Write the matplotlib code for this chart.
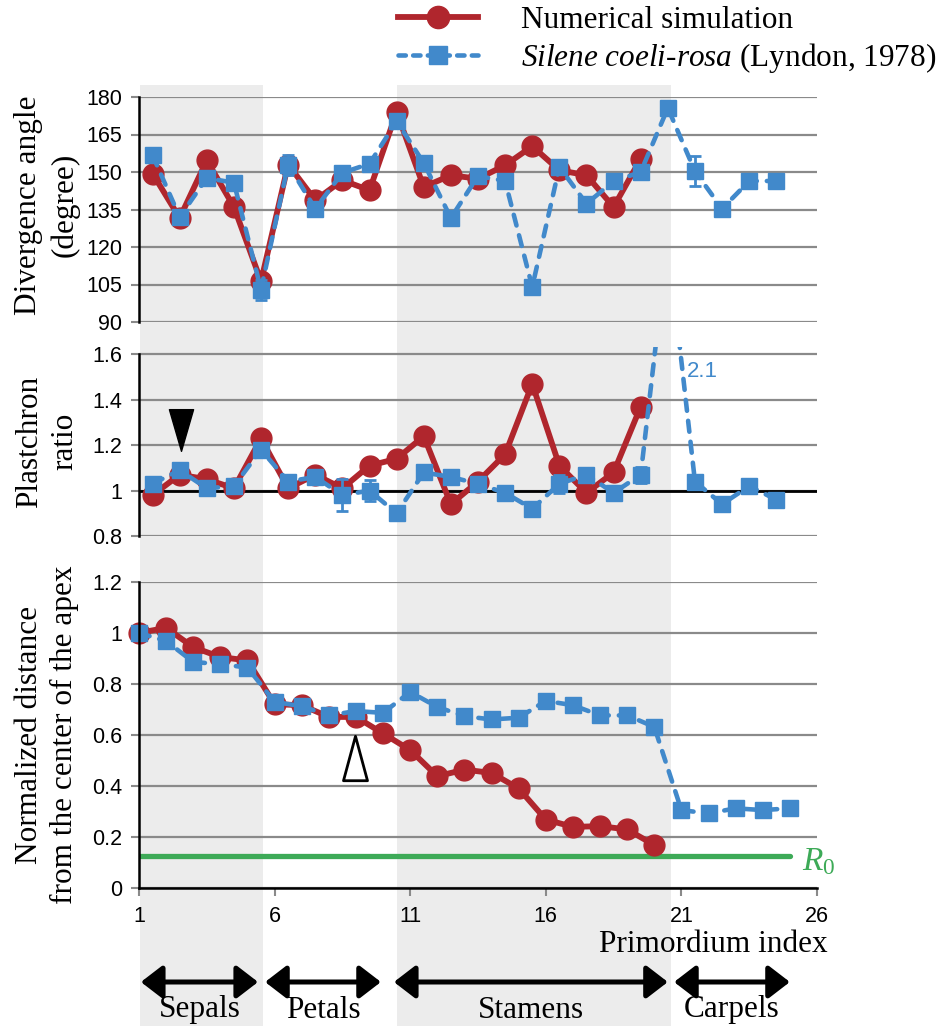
import numpy as np
import matplotlib
matplotlib.use("Agg")
import matplotlib.pyplot as plt
from matplotlib.lines import Line2D
from matplotlib.path import Path

plt.rcParams['font.family'] = ['Liberation Sans', 'DejaVu Sans']
plt.rcParams['mathtext.fontset'] = 'custom'
plt.rcParams['mathtext.it'] = 'Liberation Serif:italic'
plt.rcParams['mathtext.rm'] = 'Liberation Serif'

# ---------------- data ----------------
angle_sim = [149.4, 131.6, 154.7, 136.0, 106.3, 153.0, 138.7, 146.7, 142.7, 174.0,
             144.0, 148.7, 147.3, 152.7, 160.3, 150.7, 148.7, 136.0, 155.3]
angle_obs = [156.7, 132.0, 147.6, 145.7, 103.0, 153.0, 135.3, 149.7, 153.3, 170.3,
             153.6, 131.6, 148.4, 146.4, 104.0, 152.0, 137.3, 146.3, 150.0, 175.6,
             150.3, 135.3, 146.4, 146.4]
angle_err = [2.5, 0, 0, 1.5, 4.0, 4.0, 0, 0, 0, 0, 0, 0, 0, 0, 0, 0, 0, 0, 0, 0,
             6.0, 0, 0, 2.5]

ratio_sim = [0.98, 1.07, 1.05, 1.01, 1.23, 1.01, 1.07, 1.01, 1.11, 1.14,
             1.24, 0.94, 1.04, 1.16, 1.47, 1.11, 0.99, 1.08, 1.37]
ratio_obs = [1.03, 1.09, 1.01, 1.02, 1.18, 1.04, 1.06, 0.98, 1.00, 0.90,
             1.08, 1.06, 1.03, 0.99, 0.92, 1.03, 1.07, 0.99, 1.07, 2.10,
             1.04, 0.94, 1.02, 0.96]
ratio_err = [0.02, 0, 0, 0, 0, 0, 0, 0.07, 0.045, 0, 0, 0.03, 0.03, 0, 0.03, 0.04,
             0, 0.03, 0.035, 0, 0, 0, 0, 0]

dist_sim = [1.00, 1.02, 0.944, 0.905, 0.892, 0.72, 0.716, 0.67, 0.67, 0.605,
            0.54, 0.437, 0.463, 0.45, 0.389, 0.267, 0.238, 0.241, 0.228, 0.167]
dist_obs = [1.00, 0.968, 0.886, 0.877, 0.864, 0.729, 0.712, 0.676, 0.693, 0.686,
            0.768, 0.709, 0.673, 0.66, 0.667, 0.733, 0.716, 0.676, 0.676, 0.631,
            0.304, 0.291, 0.311, 0.304, 0.311]
R0 = 0.123
R0_extent = (1, 25)

organs = ["Sepals", "Petals", "Stamens", "Carpels"]
organ_spans = [(1.07, 5.39), (5.65, 9.92), (10.4, 20.5), (20.73, 25.0)]
shaded_spans = [(1.05, 5.58), (10.5, 20.6)]

angle_ticks = [90, 105, 120, 135, 150, 165, 180]
ratio_ticks = [0.8, 1.0, 1.2, 1.4, 1.6]
ratio_ticklabels = ["0.8", "1", "1.2", "1.4", "1.6"]
dist_ticks = [0, 0.2, 0.4, 0.6, 0.8, 1.0, 1.2]
dist_ticklabels = ["0", "0.2", "0.4", "0.6", "0.8", "1", "1.2"]
x_ticks = [1, 6, 11, 16, 21, 26]

# ---------------- style ----------------
RED = '#B0262D'
BLUE = '#4189CB'
GREEN = '#3DAA57'
GRID = '#8A8A8A'
BAND = '#ECECEC'
SERIF = ['Liberation Serif', 'DejaVu Serif']
FS = 22.5
TFS = 15.5

W, H = 946, 1026
fig = plt.figure(figsize=(W / 100, H / 100), dpi=100)

L = 139 / W
AW = (817 - 139) / W


def rect(top_px, bot_px):
    return [L, 1 - bot_px / H, AW, (bot_px - top_px) / H]


# background bands across the whole figure
ax_bg = fig.add_axes([L, 0, AW, (H - 85) / H], zorder=0)
ax_bg.set_xlim(1, 26)
ax_bg.set_ylim(0, 1)
ax_bg.axis('off')
for a, b in shaded_spans:
    ax_bg.axvspan(a, b, color=BAND, lw=0)

for (a, b), name in zip(organ_spans, organs):
    ax_bg.annotate('', xy=(b, 44 / 941), xytext=(a, 44 / 941),
                   xycoords=('data', 'axes fraction'), textcoords=('data', 'axes fraction'),
                   arrowprops=dict(arrowstyle='<|-|>,head_length=0.65,head_width=0.5',
                                   lw=3.6, color='black', shrinkA=0, shrinkB=0,
                                   mutation_scale=20))
    ax_bg.text((a + b) / 2, 16 / 941, name, transform=ax_bg.get_xaxis_transform(),
               ha='center', va='center', fontsize=FS, family=SERIF)

line_sim = dict(color=RED, lw=4.2, marker='o', ms=15, mec=RED, mfc=RED, zorder=4)
line_obs = dict(color=BLUE, lw=3.3, marker='s', ms=12, mec=BLUE, mfc=BLUE,
                dashes=(2.4, 2.2), dash_capstyle='round', zorder=5)


def style_axis(ax, ylim, ticks, labels, bounds):
    ax.set_xlim(1, 26)
    ax.set_ylim(*ylim)
    ax.patch.set_visible(False)
    for s in ['top', 'right']:
        ax.spines[s].set_visible(False)
    ax.spines['left'].set_linewidth(1.8)
    ax.spines['left'].set_color('black')
    ax.spines['left'].set_bounds(*bounds)
    ax.spines['left'].set_zorder(6)
    ax.set_yticks(ticks)
    ax.set_yticklabels(labels)
    ax.tick_params(axis='y', direction='out', length=6, width=1.5, color=GRID,
                   labelsize=TFS, pad=6)
    ax.yaxis.grid(True, color=GRID, lw=1.6, zorder=1)
    ax.set_axisbelow(True)


# ---------- top panel: divergence angle ----------
ax1 = fig.add_axes(rect(97, 322), zorder=2)
x_a_sim = np.arange(len(angle_sim)) + 1.5
x_a_obs = np.arange(len(angle_obs)) + 1.5
ax1.plot(x_a_sim, angle_sim, clip_on=False, **line_sim)
ax1.plot(x_a_obs, angle_obs, clip_on=False, **line_obs)
err = np.array(angle_err)
m = err > 0
ax1.errorbar(x_a_obs[m], np.array(angle_obs)[m], yerr=err[m], fmt='none', ecolor=BLUE,
             elinewidth=2, capsize=4.5, capthick=2, zorder=5)
style_axis(ax1, (90, 180), angle_ticks, [str(t) for t in angle_ticks], (90, 180))
ax1.spines['bottom'].set_visible(False)
ax1.set_xticks([])
ax1.set_ylabel("Divergence angle\n(degree)", fontsize=FS, family=SERIF, linespacing=1.3)
ax1.yaxis.set_label_coords(-0.088, 0.52)

# ---------- middle panel: plastochron ratio ----------
ax2 = fig.add_axes(rect(347, 536), zorder=2)
x_r_sim = np.arange(len(ratio_sim)) + 1.5
x_r_obs = np.arange(len(ratio_obs)) + 1.5
ax2.axhline(1.0, color='black', lw=2.0, zorder=2)
ax2.plot(x_r_sim, ratio_sim, **line_sim)
ax2.plot(x_r_obs, ratio_obs, **line_obs)
err = np.array(ratio_err)
m = err > 0
ax2.errorbar(x_r_obs[m], np.array(ratio_obs)[m], yerr=err[m], fmt='none', ecolor=BLUE,
             elinewidth=2, capsize=4.5, capthick=2, zorder=5)
style_axis(ax2, (0.8, 1.6326), ratio_ticks, ratio_ticklabels, (0.8, 1.6))
ax2.spines['bottom'].set_visible(False)
ax2.set_xticks([])
ax2.set_ylabel("Plastchron\nratio", fontsize=FS, family=SERIF, linespacing=1.3)
ax2.yaxis.set_label_coords(-0.088, 0.5)
ax2.text(21.2, 1.525, "2.1", color=BLUE, fontsize=16, ha='left', va='center')
down_tri = Path([(-0.29, 0.5), (0.29, 0.5), (0, -0.5), (-0.29, 0.5)],
                [Path.MOVETO, Path.LINETO, Path.LINETO, Path.CLOSEPOLY])
ax2.plot([2.55], [1.265], marker=down_tri, ms=30, color='black', mec='black', zorder=7)

# ---------- bottom panel: normalized distance ----------
ax3 = fig.add_axes(rect(582, 887.5), zorder=2)
x_d_sim = np.arange(len(dist_sim)) + 1
x_d_obs = np.arange(len(dist_obs)) + 1
ax3.plot(R0_extent, [R0, R0], color=GREEN, lw=3.8, solid_capstyle='round', zorder=3)
ax3.plot(x_d_sim, dist_sim, clip_on=False, **line_sim)
ax3.plot(x_d_obs, dist_obs, clip_on=False, **line_obs)
style_axis(ax3, (0, 1.2), dist_ticks, dist_ticklabels, (0, 1.2))
ax3.spines['bottom'].set_linewidth(1.8)
ax3.spines['bottom'].set_zorder(6)
ax3.set_xticks(x_ticks)
ax3.tick_params(axis='x', direction='out', length=6, width=1.5, color=GRID,
                labelsize=TFS, pad=7)
ax3.set_ylabel("Normalized distance\nfrom the center of the apex", fontsize=FS,
               family=SERIF, linespacing=1.3)
ax3.yaxis.set_label_coords(-0.088, 0.5)
ax3.text(1.016, -0.188, "Primordium index", transform=ax3.transAxes, ha='right',
         va='center', fontsize=FS, family=SERIF)
ax3.text(25.45, 0.10, r'$\mathit{R}_{\mathit{0}}$', color=GREEN, fontsize=24,
         ha='left', va='center')
up_tri = Path([(-0.27, -0.5), (0.27, -0.5), (0, 0.5), (-0.27, -0.5)],
              [Path.MOVETO, Path.LINETO, Path.LINETO, Path.CLOSEPOLY])
ax3.plot([8.97], [0.51], marker=up_tri, ms=32, mfc='white', mec='black', mew=2.0, zorder=7)

# ---------- legend ----------
h1 = Line2D([], [], color=RED, lw=4.2, marker='o', ms=16, mec=RED, mfc=RED)
h2 = Line2D([], [], color=BLUE, lw=3.3, marker='s', ms=13, mec=BLUE, mfc=BLUE,
            dashes=(1.6, 1.6), dash_capstyle='round')
leg = fig.legend([h1, h2],
                 ["Numerical simulation",
                  r'$\mathit{Silene\ coeli}$-$\mathit{rosa}$ (Lyndon, 1978)'],
                 loc='upper left', bbox_to_anchor=(398 / W, 1 - 6 / H), frameon=False,
                 borderaxespad=0, borderpad=0, handlelength=2.55, handletextpad=1.4,
                 labelspacing=0.18, numpoints=1,
                 prop={'family': SERIF, 'size': FS})

fig.savefig("out.png", dpi=100)
